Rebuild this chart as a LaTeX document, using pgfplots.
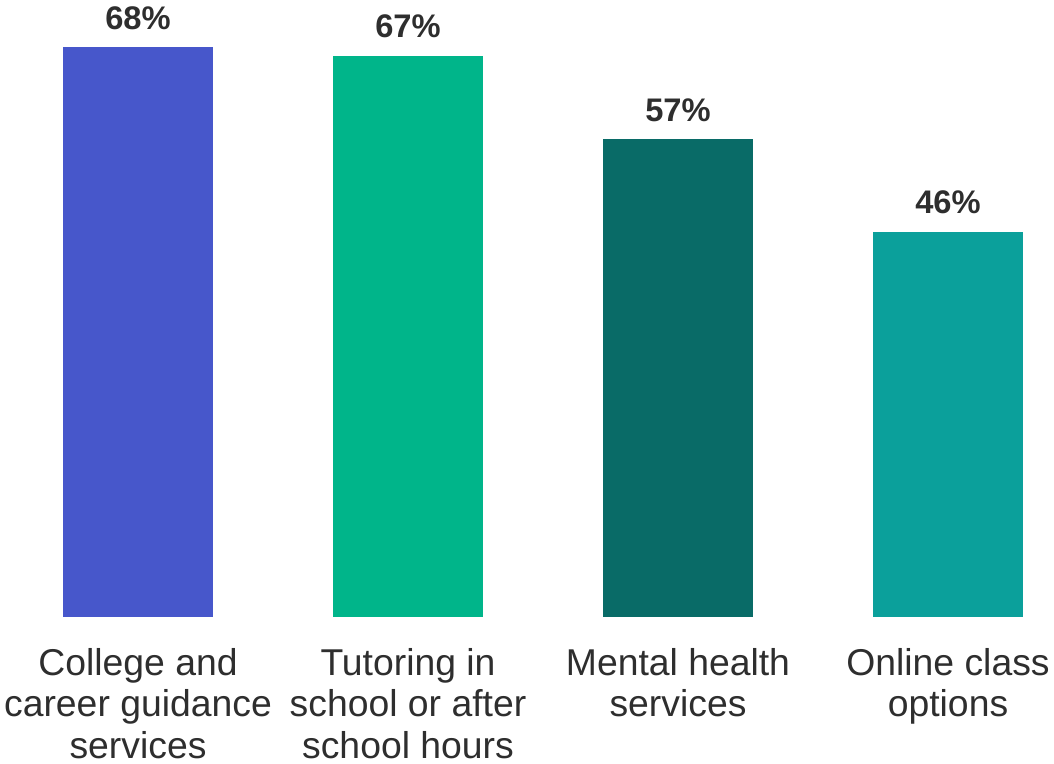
\documentclass[border=0pt]{standalone}
\usepackage{pgfplots}
\pgfplotsset{compat=1.18}
\usepackage{fontspec}
\setmainfont{Liberation Sans}
\definecolor{c1}{HTML}{4757CB}
\definecolor{c2}{HTML}{00B58A}
\definecolor{c3}{HTML}{096B67}
\definecolor{c4}{HTML}{0BA09B}
\definecolor{txt}{HTML}{2E2E2E}
\begin{document}
\begin{tikzpicture}
\begin{axis}[
  name=ax,
  scale only axis,
  width=790.5pt, height=462.75pt,
  xmin=-0.5111, xmax=3.3926,
  ymin=0, ymax=73.63,
  ybar, bar width=112.5pt, bar shift=0pt,
  axis line style={draw=none},
  major tick style={draw=none},
  ymajorticks=false,
  xtick={0,1,2,3},
  xticklabels={{College and\\career guidance\\services},{Tutoring in\\school or after\\school hours},{Mental health\\services},{Online class\\options}},
  xticklabel style={align=center, inner sep=0pt, text=txt, font=\fontsize{28}{31}\selectfont, yshift=-19pt},
  /pgf/number format/assume math mode=true,
  nodes near coords={\pgfmathprintnumber{\pgfplotspointmeta}\%},
  nodes near coords style={anchor=south, inner sep=0pt, yshift=13pt, text=txt, font=\fontsize{24.5}{28}\selectfont\bfseries},
  clip=false,
]
\addplot[fill=c1, draw=none] coordinates {(0,68)};
\addplot[fill=c2, draw=none] coordinates {(1,67)};
\addplot[fill=c3, draw=none] coordinates {(2,57)};
\addplot[fill=c4, draw=none] coordinates {(3,46)};
\end{axis}
\pgfresetboundingbox
\path[use as bounding box] ([yshift=-110.25pt]ax.south west) rectangle (ax.north east);
\end{tikzpicture}
\end{document}
